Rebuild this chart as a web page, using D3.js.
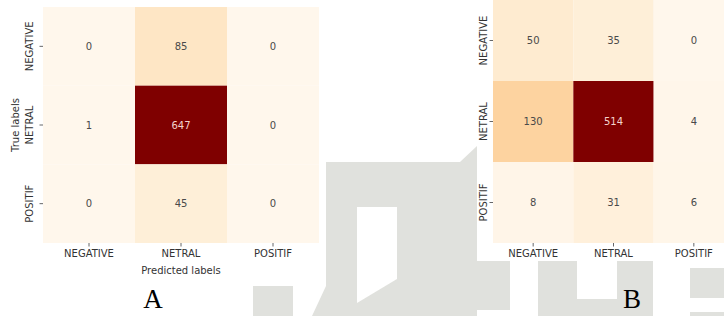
<!DOCTYPE html>
<html>
<head>
<meta charset="utf-8">
<script src="https://cdn.jsdelivr.net/npm/d3@7"></script>
<style>
  body { margin: 0; background: #fff; }
  svg { display: block; }
</style>
</head>
<body>
<svg id="chart" width="724" height="316"></svg>
<script>
// class names as printed on both axes
var labels = ["NEGATIVE", "NETRAL", "POSITIF"];

// rows = true labels, columns = predicted labels
var matrixA = [
  [0, 85, 0],
  [1, 647, 0],
  [0, 45, 0]
];
var matrixB = [
  [50, 35, 0],
  [130, 514, 4],
  [8, 31, 6]
];

var panelNames = ["A", "B"];

var svg = d3.select("#chart");
var font = "DejaVu Sans, sans-serif";

// faint watermark shapes behind the figures
var wm = svg.append("g").attr("fill", "#e0e1dd");
var shapes = [
  [[253, 286], [293, 286], [293, 316], [253, 316]],
  [[326, 162], [460, 162], [477, 146], [477, 316], [312, 316], [326, 286]],
  [[475, 261], [510, 261], [510, 310], [475, 310]],
  [[538, 261], [577, 261], [577, 299], [617, 299], [617, 261], [653, 261], [653, 316], [538, 316]],
  [[690, 268], [724, 268], [724, 298], [690, 298]],
  [[690, 312], [724, 312], [724, 316], [690, 316]]
];
shapes.forEach(function(p) {
  wm.append("polygon").attr("points", p.map(function(d) { return d.join(","); }).join(" "));
});
// window cut into the big shape
svg.append("polygon")
  .attr("points", "357,207 397,207 397,279 357,303")
  .attr("fill", "#fff");

// white panels of the two screenshots
svg.append("rect").attr("x", 0).attr("y", 0).attr("width", 326).attr("height", 286).attr("fill", "#fff");
svg.append("rect").attr("x", 477).attr("y", 0).attr("width", 247).attr("height", 261).attr("fill", "#fff");

function drawMatrix(data, box, withTitles) {
  var g = svg.append("g");

  var x = d3.scaleBand().domain(labels).range([box.x0, box.x1]);
  var y = d3.scaleBand().domain(labels).range([box.y0, box.y1]);
  var max = d3.max(data, function(r) { return d3.max(r); });
  var color = d3.scaleSequential(d3.interpolateOrRd).domain([0, max]);

  var cells = [];
  data.forEach(function(row, i) {
    row.forEach(function(v, j) {
      cells.push({ t: labels[i], p: labels[j], v: v });
    });
  });

  g.selectAll("rect.cell")
    .data(cells)
    .enter().append("rect")
      .attr("class", "cell")
      .attr("x", function(d) { return x(d.p); })
      .attr("y", function(d) { return y(d.t); })
      .attr("width", x.bandwidth())
      .attr("height", y.bandwidth())
      .attr("fill", function(d) { return color(d.v); });

  g.selectAll("text.val")
    .data(cells)
    .enter().append("text")
      .attr("class", "val")
      .attr("x", function(d) { return x(d.p) + x.bandwidth() / 2; })
      .attr("y", function(d) { return y(d.t) + y.bandwidth() / 2; })
      .attr("text-anchor", "middle")
      .attr("dominant-baseline", "central")
      .attr("font-family", font)
      .attr("font-size", "10px")
      .attr("fill", function(d) { return d.v / max > 0.6 ? "#f4d2cc" : "#4a4a4a"; })
      .text(function(d) { return d.v; });

  // x axis: ticks + labels
  var xa = g.append("g")
    .attr("transform", "translate(0," + box.y1 + ")")
    .call(d3.axisBottom(x).tickSize(3.5).tickPadding(3));
  xa.select(".domain").remove();
  xa.selectAll("line").attr("stroke", "#666");
  xa.selectAll("text").attr("font-family", font).attr("font-size", "10px").attr("fill", "#333");

  // y axis: rotated labels
  var ya = g.append("g")
    .attr("transform", "translate(" + box.x0 + ",0)")
    .call(d3.axisLeft(y).tickSize(3.5).tickPadding(3));
  ya.select(".domain").remove();
  ya.selectAll("line").attr("stroke", "#666");
  ya.selectAll("text")
    .attr("font-family", font).attr("font-size", "10px").attr("fill", "#333")
    .attr("x", null).attr("dy", null)
    .attr("text-anchor", "middle")
    .attr("transform", "translate(" + (-box.labelGap) + ",0) rotate(-90)");

  if (withTitles) {
    g.append("text")
      .attr("x", (box.x0 + box.x1) / 2)
      .attr("y", box.y1 + 31)
      .attr("text-anchor", "middle")
      .attr("font-family", font).attr("font-size", "10px").attr("fill", "#333")
      .text("Predicted labels");
    g.append("text")
      .attr("transform", "translate(" + (box.x0 - 24) + "," + ((box.y0 + box.y1) / 2) + ") rotate(-90)")
      .attr("text-anchor", "middle")
      .attr("font-family", font).attr("font-size", "10px").attr("fill", "#333")
      .text("True labels");
  }
}

drawMatrix(matrixA, { x0: 43, x1: 319, y0: 7, y1: 243, labelGap: 10 }, true);
drawMatrix(matrixB, { x0: 493, x1: 734, y0: 0, y1: 243, labelGap: 6 }, false);

// panel letters
svg.selectAll("text.panel")
  .data(panelNames)
  .enter().append("text")
    .attr("class", "panel")
    .attr("x", function(d, i) { return i === 0 ? 153 : 632; })
    .attr("y", 308)
    .attr("text-anchor", "middle")
    .attr("font-family", "Liberation Serif, serif")
    .attr("font-size", "27px")
    .attr("fill", "#000")
    .text(function(d) { return d; });
</script>
</body>
</html>
